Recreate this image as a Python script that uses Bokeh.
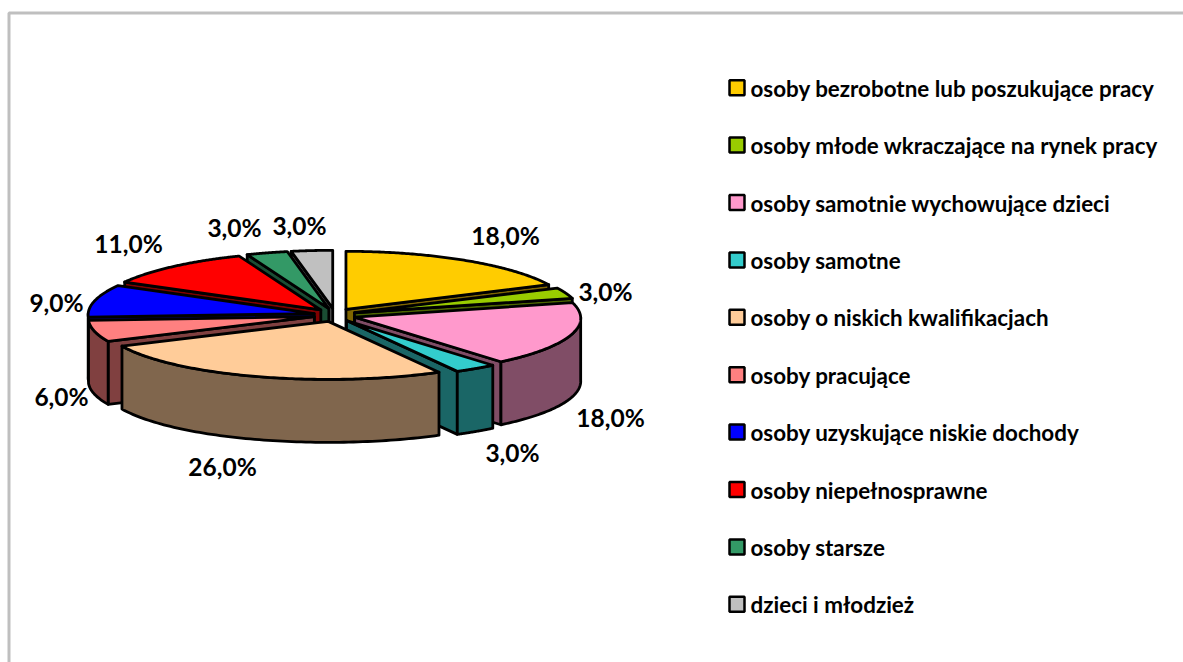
import numpy as np
from bokeh.plotting import figure
from bokeh.embed import file_html
from bokeh.resources import INLINE
from bokeh.core.properties import value

categories = ["osoby bezrobotne lub poszukujące pracy", "osoby młode wkraczające na rynek pracy",
              "osoby samotnie wychowujące dzieci", "osoby samotne", "osoby o niskich kwalifikacjach",
              "osoby pracujące", "osoby uzyskujące niskie dochody", "osoby niepełnosprawne",
              "osoby starsze", "dzieci i młodzież"]
values = [18.0, 3.0, 18.0, 3.0, 26.0, 6.0, 9.0, 11.0, 3.0, 3.0]
labels = ["18,0%", "3,0%", "18,0%", "3,0%", "26,0%", "6,0%", "9,0%", "11,0%", "3,0%", "3,0%"]
top_colors = ["#FFCC00", "#99CC00", "#FF99CC", "#33CCCC", "#FFCC99", "#FF8080", "#0000FF", "#FF0000", "#339966", "#C0C0C0"]
side_colors = ["#806600", "#4D6600", "#804D66", "#1A6666", "#80664D", "#804040", "#000080", "#800000", "#1A4D33", "#606060"]

# layout, in page pixels of the 1183x662 window
W, H = 1183, 662
CX, CY = 334.2, 314.5
RX, RY = 226, 58
EX, EY = 21, 6.7
PERSP = 0.02
DEPTH = 63
LW = 2.8
LABEL_XY = [(505, 235), (605, 291), (610, 417), (512, 452), (222, 466),
            (61, 396), (56, 302), (128, 243), (234, 227), (299, 225)]
LEG_X, LEG_Y0, LEG_DY, LEG_S = 728, 87.2, 57.4, 15

p = figure(width=W, height=H, x_range=(0, W), y_range=(H, 0),
           output_backend="svg", toolbar_location=None, min_border=0,
           outline_line_color=None, background_fill_color="white", border_fill_color="white")
p.xaxis.visible = False
p.yaxis.visible = False
p.grid.visible = False

# chart frame (left and top edges are visible in the picture)
p.line([8.5, 8.5, 1183], [662, 12.5, 12.5], line_color="#BFBFBF", line_width=3)

total = sum(values)
starts = np.cumsum([0] + values[:-1]) / total * 2 * np.pi
ends = np.cumsum(values) / total * 2 * np.pi


def pt(cx, cy, a):
    return cx + RX * np.sin(a) * (1 - PERSP * np.cos(a)), cy - RY * np.cos(a)


slices = []
for i in range(len(values)):
    mid = (starts[i] + ends[i]) / 2
    cx = CX + EX * np.sin(mid)
    cy = CY - EY * np.cos(mid)
    slices.append((np.cos(mid), i, cx, cy))
slices.sort(key=lambda s: -s[0])

for _, i, cx, cy in slices:
    a0, a1 = starts[i], ends[i]
    side = dict(fill_color=side_colors[i], line_color="black", line_width=LW, line_join="round")
    # cut faces that turn towards the viewer
    if np.sin(a1) > 0:
        x, y = pt(cx, cy, a1)
        p.patch([cx, x, x, cx], [cy, y, y + DEPTH, cy + DEPTH], **side)
    if np.sin(a0) < 0:
        x, y = pt(cx, cy, a0)
        p.patch([cx, x, x, cx], [cy, y, y + DEPTH, cy + DEPTH], **side)
    # outer wall: the part of the rim on the front half
    lo, hi = max(a0, np.pi / 2), min(a1, 3 * np.pi / 2)
    if hi > lo:
        t = np.linspace(lo, hi, 80)
        x, y = pt(cx, cy, t)
        p.patch(np.r_[x, x[::-1]], np.r_[y, y[::-1] + DEPTH], **side)
    # top face
    t = np.linspace(a0, a1, 120)
    x, y = pt(cx, cy, t)
    p.patch(np.r_[cx, x], np.r_[cy, y], fill_color=top_colors[i], line_color="black",
            line_width=LW, line_join="round")

p.text([c[0] for c in LABEL_XY], [c[1] for c in LABEL_XY], text=labels,
       text_font=value("Lato"), text_font_style="bold", text_font_size="24.5px",
       text_color="black", text_align="center", text_baseline="middle")

ly = [LEG_Y0 + k * LEG_DY for k in range(len(categories))]
p.rect([LEG_X + LEG_S / 2 + 1] * len(ly), ly, width=LEG_S, height=LEG_S, fill_color=top_colors,
       line_color="black", line_width=2.5)
p.text([LEG_X + 22] * len(ly), [v + 0.5 for v in ly], text=categories,
       text_font=value("Lato"), text_font_style="bold", text_font_size="22.4px",
       text_color="black", text_align="left", text_baseline="middle")

open("out.html", "w").write(file_html(p, INLINE))
